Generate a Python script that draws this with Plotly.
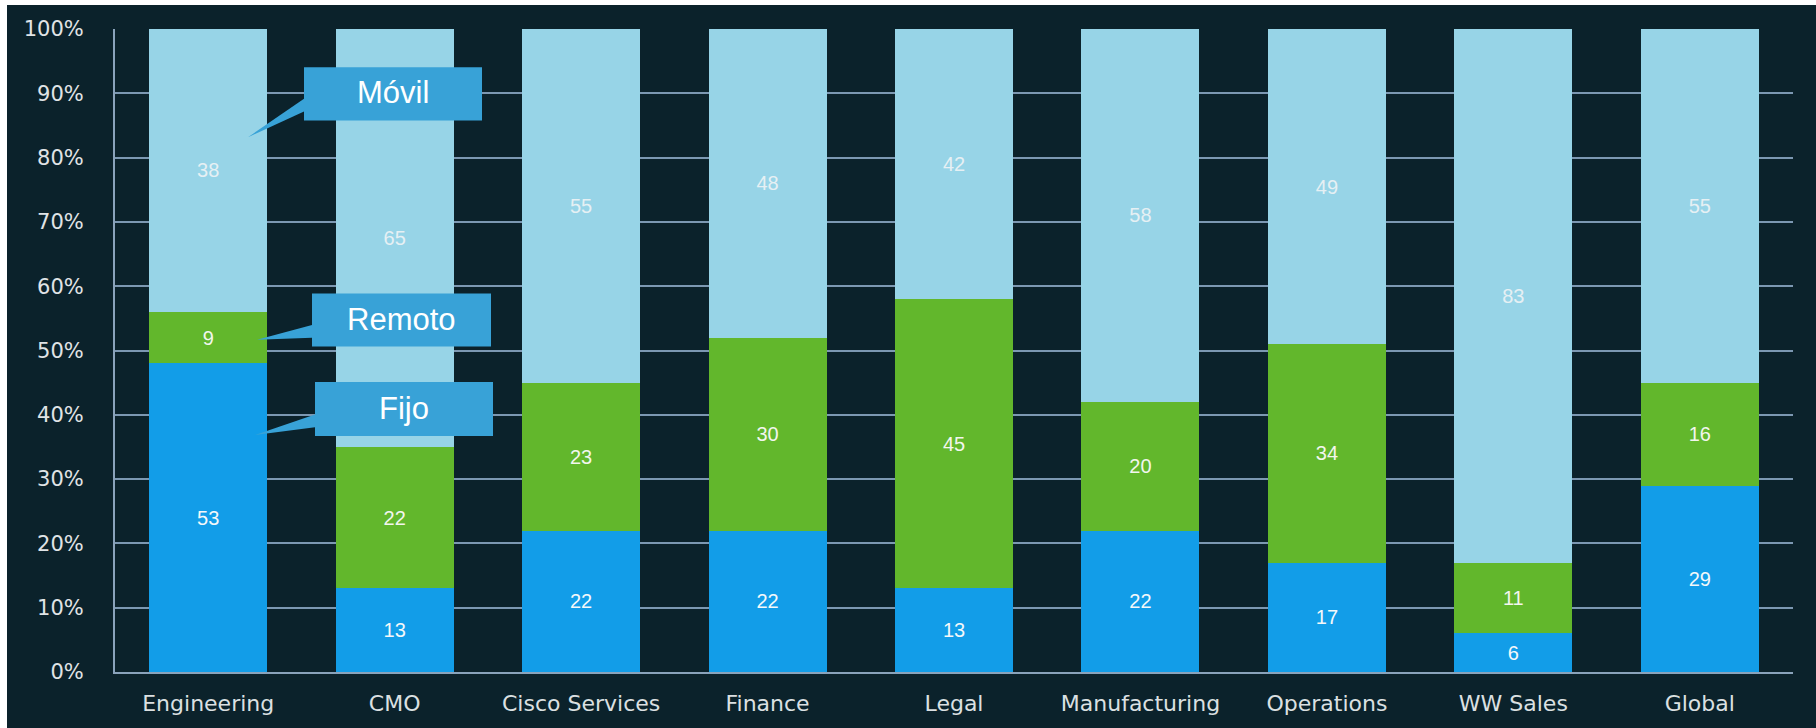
import plotly.graph_objects as go

categories = ["Engineering", "CMO", "Cisco Services", "Finance", "Legal",
              "Manufacturing", "Operations", "WW Sales", "Global"]
# drawn segment heights (% of bar)
fijo = [48, 13, 22, 22, 13, 22, 17, 6, 29]
remoto = [8, 22, 23, 30, 45, 20, 34, 11, 16]
movil = [44, 65, 55, 48, 42, 58, 49, 83, 55]
# data labels printed on the segments
fijo_lbl = [53, 13, 22, 22, 13, 22, 17, 6, 29]
remoto_lbl = [9, 22, 23, 30, 45, 20, 34, 11, 16]
movil_lbl = [38, 65, 55, 48, 42, 58, 49, 83, 55]
y_ticks = [0, 10, 20, 30, 40, 50, 60, 70, 80, 90, 100]
y_tick_text = [f"{v}%" for v in y_ticks]

OFFX, OFFY = 7, 5  # page body margin (left, top)
W, H = 1816 - OFFX, 728 - OFFY
L, R, T, B = 108, 23, 19, 50
PW, PH = W - L - R, H - T - B

def px(x):  # screenshot px -> paper
    return (x - OFFX - L) / PW

def py(y):
    return (H - B - (y - OFFY)) / PH

BG = "#0b222b"
fig = go.Figure()
series = [
    ("Fijo", fijo, fijo_lbl, "#129de8", "#f4f8fa"),
    ("Remoto", remoto, remoto_lbl, "#62b72c", "#f2f6ee"),
    ("Móvil", movil, movil_lbl, "#97d4e7", "#e6f0f4"),
]
for name, vals, lbls, col, tcol in series:
    fig.add_trace(go.Bar(
        name=name, x=categories, y=vals, text=[str(v) for v in lbls],
        textposition="inside", insidetextanchor="middle", textangle=0,
        textfont=dict(family="Liberation Sans, Arial", size=20, color=tcol),
        marker=dict(color=col, line=dict(width=0)),
        cliponaxis=False,
    ))

shapes = []
callouts = [
    ("Móvil", (304, 63, 482, 117), [(304, 95), (304, 108), (248, 134)]),
    ("Remoto", (312, 293, 491, 347), [(312, 325), (312, 338), (257, 340)]),
    ("Fijo", (315, 383, 493, 438), [(315, 416), (315, 429), (255, 437)]),
]
annotations = []
BOX = "#38a2d7"
for text, (x0, y0, x1, y1), tri in callouts:
    shapes.append(dict(type="rect", xref="paper", yref="paper",
                       x0=px(x0), x1=px(x1), y0=py(y1), y1=py(y0),
                       fillcolor=BOX, line=dict(width=0), layer="above"))
    path = "M {} {} L {} {} L {} {} Z".format(
        px(tri[0][0]), py(tri[0][1]), px(tri[1][0]), py(tri[1][1]),
        px(tri[2][0]), py(tri[2][1]))
    shapes.append(dict(type="path", xref="paper", yref="paper", path=path,
                       fillcolor=BOX, line=dict(width=0), layer="above"))
    annotations.append(dict(xref="paper", yref="paper",
                            x=px((x0 + x1) / 2), y=py((y0 + y1) / 2 - 1),
                            text=text, showarrow=False,
                            font=dict(family="Liberation Sans, Arial", size=31, color="white"),
                            xanchor="center", yanchor="middle"))

fig.update_layout(
    barmode="stack", bargap=0.367,
    width=W, height=H,
    margin=dict(l=L, r=R, t=T, b=B, pad=0),
    paper_bgcolor=BG, plot_bgcolor=BG,
    showlegend=False,
    shapes=shapes, annotations=annotations,
    xaxis=dict(
        tickfont=dict(family="DejaVu Sans", size=22, color="#dbe0e2"),
        showgrid=False, showline=True, linecolor="#8aa3bb", linewidth=2,
        ticks="", ticklabelstandoff=11,
    ),
    yaxis=dict(
        range=[0, 100], tickmode="array", tickvals=y_ticks, ticktext=y_tick_text,
        tickfont=dict(family="DejaVu Sans", size=21, color="#e0e4e6"),
        showgrid=True, gridcolor="#7c98b2", gridwidth=2,
        showline=True, linecolor="#8aa3bb", linewidth=2,
        zeroline=False, ticks="", ticklabelstandoff=25,
    ),
)

fig.write_html(
    "out.html",
    post_script="document.body.style.margin='%dpx 0 0 %dpx';"
                "document.body.style.overflow='hidden';"
                "document.body.style.background='white';" % (OFFY, OFFX),
)
